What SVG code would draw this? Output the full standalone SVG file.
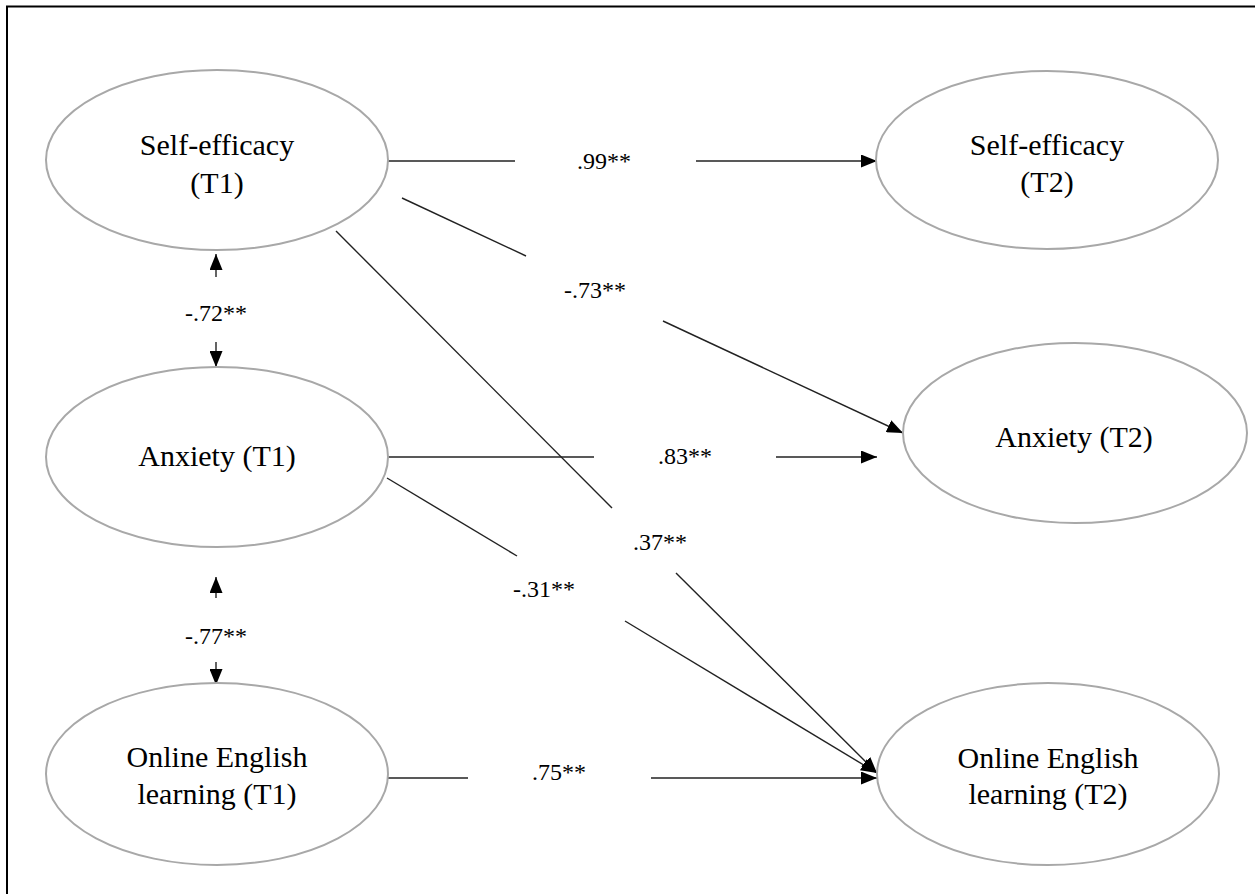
<svg xmlns="http://www.w3.org/2000/svg" width="1255" height="894" viewBox="0 0 1255 894">
<style>
text{font-family:"Liberation Serif","Times New Roman",serif;fill:#000;text-anchor:middle}
.node ellipse{fill:#fff;stroke:#a8a8a8;stroke-width:2}
.node text{font-size:30px}
.lbl{font-size:24px}
.ln{stroke:#222;stroke-width:1.4;fill:none}
.arr{marker-end:url(#ah)}
</style>
<defs>
<marker id="ah" markerUnits="userSpaceOnUse" markerWidth="17" markerHeight="13" refX="16" refY="6.5" orient="auto">
<path d="M0,0 L16,6.5 L0,13 z" fill="#000"/>
</marker>
</defs>
<rect x="7" y="6.5" width="1270" height="910" fill="#fff" stroke="#000" stroke-width="2"/>
<g id="connectors">
<line class="ln" x1="388" y1="161" x2="515" y2="161"/>
<line class="ln arr" x1="696" y1="161" x2="877" y2="161"/>
<line class="ln" x1="402" y1="198" x2="526" y2="256"/>
<line class="ln arr" x1="663" y1="321" x2="903" y2="433"/>
<line class="ln" x1="336" y1="231" x2="612" y2="508"/>
<line class="ln arr" x1="676" y1="573" x2="877" y2="773"/>
<line class="ln" x1="388" y1="457" x2="594" y2="457"/>
<line class="ln arr" x1="776" y1="457" x2="877" y2="457"/>
<line class="ln" x1="387" y1="478" x2="517" y2="556"/>
<line class="ln arr" x1="625" y1="621" x2="877" y2="773"/>
<line class="ln" x1="388" y1="778" x2="468" y2="778"/>
<line class="ln arr" x1="651" y1="778" x2="877" y2="778"/>
<line class="ln arr" x1="216" y1="277" x2="216" y2="254"/>
<line class="ln arr" x1="216" y1="342" x2="216" y2="367"/>
<line class="ln arr" x1="216" y1="598" x2="216" y2="577"/>
<line class="ln arr" x1="216" y1="662" x2="216" y2="685"/>
<text class="lbl" x="604" y="169">.99**</text>
<text class="lbl" x="595" y="298">-.73**</text>
<text class="lbl" x="685" y="464">.83**</text>
<text class="lbl" x="660" y="550">.37**</text>
<text class="lbl" x="544" y="597">-.31**</text>
<text class="lbl" x="559" y="780">.75**</text>
<text class="lbl" x="216" y="321">-.72**</text>
<text class="lbl" x="216" y="644">-.77**</text>
</g>
<g id="se1" class="node"><ellipse cx="217" cy="160" rx="171" ry="90"/><text x="217" y="155">Self-efficacy</text><text x="217" y="193">(T1)</text></g>
<g id="anx1" class="node"><ellipse cx="217" cy="457" rx="171" ry="90"/><text x="217" y="466">Anxiety (T1)</text></g>
<g id="oel1" class="node"><ellipse cx="217" cy="774" rx="171" ry="91"/><text x="217" y="767">Online English</text><text x="217" y="804">learning (T1)</text></g>
<g id="se2" class="node"><ellipse cx="1047" cy="160" rx="171" ry="89"/><text x="1047" y="155">Self-efficacy</text><text x="1047" y="192">(T2)</text></g>
<g id="anx2" class="node"><ellipse cx="1075" cy="433" rx="172" ry="90"/><text x="1074" y="447">Anxiety (T2)</text></g>
<g id="oel2" class="node"><ellipse cx="1048" cy="774" rx="171" ry="91"/><text x="1048" y="768">Online English</text><text x="1048" y="804">learning (T2)</text></g>
</svg>
